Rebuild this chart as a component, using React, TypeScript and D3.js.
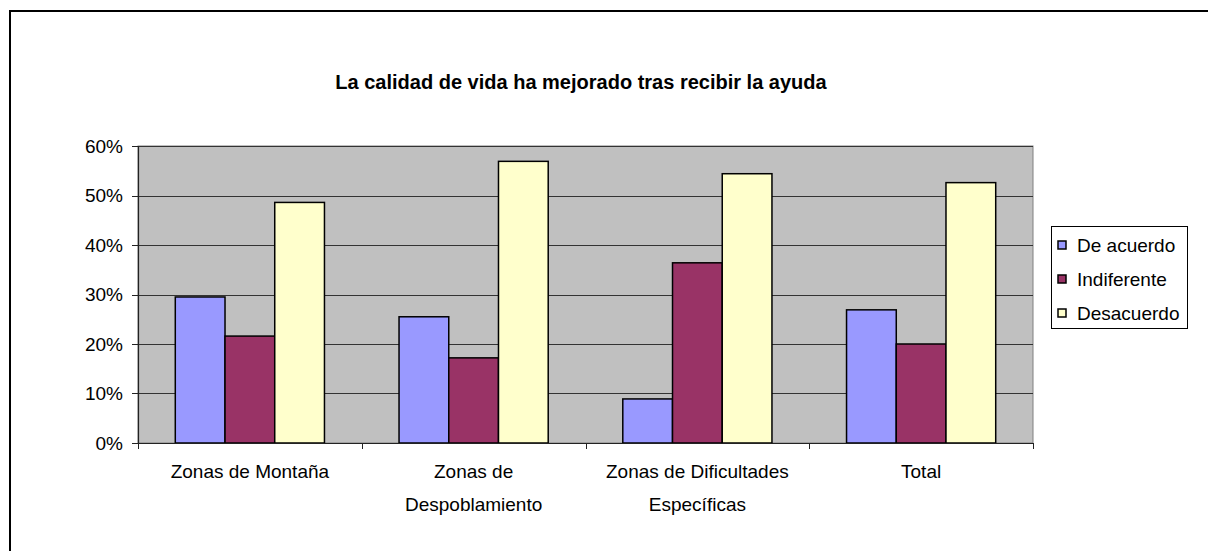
import React from "react";
import * as d3 from "d3";

const categories: string[][] = [
  ["Zonas de Montaña"],
  ["Zonas de", "Despoblamiento"],
  ["Zonas de Dificultades", "Específicas"],
  ["Total"],
];
const seriesNames = ["De acuerdo", "Indiferente", "Desacuerdo"];
const deAcuerdo = [0.295, 0.255, 0.089, 0.269];
const indiferente = [0.216, 0.172, 0.364, 0.2];
const desacuerdo = [0.486, 0.569, 0.544, 0.526];
const yTicks = [0, 0.1, 0.2, 0.3, 0.4, 0.5, 0.6];
const colors = ["#9999FF", "#993366", "#FFFFCC"];
const title = "La calidad de vida ha mejorado tras recibir la ayuda";

export default function App() {
  const W = 1208, H = 551;
  const left = 138, right = 1033, top = 146, bottom = 443;
  const series = [deAcuerdo, indiferente, desacuerdo];
  const x0 = d3.scaleBand<number>().domain(d3.range(categories.length)).range([left, right]).paddingInner(0).paddingOuter(0);
  const bw = x0.bandwidth() / 4.5;
  const y = d3.scaleLinear().domain([0, 0.6]).range([bottom, top]);
  const fmt = d3.format(".0%");
  const font = "'Liberation Sans', Arial, sans-serif";
  return (
    <div style={{ position: "absolute", left: 0, top: 0 }}>
      <svg width={W} height={H} style={{ display: "block" }} fontFamily={font}>
        <rect x={0} y={0} width={W} height={H} fill="#fff" />
        <rect x={10} y={11} width={1400} height={700} fill="none" stroke="#000" strokeWidth={2} />
        <text x={581} y={89} textAnchor="middle" fontSize={20} fontWeight="bold" fill="#000">{title}</text>
        {/* plot area */}
        <rect x={left} y={top} width={right - left} height={bottom - top} fill="#C0C0C0" stroke="#808080" strokeWidth={1} />
        {yTicks.slice(1).map((t) => (
          <line key={t} x1={left} x2={right} y1={Math.round(y(t)) + 0.5} y2={Math.round(y(t)) + 0.5} stroke="#333" strokeWidth={1} />
        ))}
        {/* bars */}
        {categories.map((_, i) =>
          series.map((s, j) => {
            const bx = (x0(i) as number) + bw * 0.75 + j * bw;
            return (
              <rect key={`${i}-${j}`} x={bx} y={y(s[i])} width={bw} height={bottom - y(s[i])} fill={colors[j]} stroke="#000" strokeWidth={1.5} />
            );
          })
        )}
        {/* y axis */}
        <line x1={left + 0.5} x2={left + 0.5} y1={top} y2={bottom} stroke="#222" strokeWidth={1.2} />
        {yTicks.map((t) => (
          <g key={t}>
            <line x1={132} x2={left} y1={Math.round(y(t)) + 0.5} y2={Math.round(y(t)) + 0.5} stroke="#222" />
            <text x={123} y={y(t)} dy="0.35em" textAnchor="end" fontSize={19} fill="#000">{fmt(t)}</text>
          </g>
        ))}
        {/* x axis */}
        <line x1={left} x2={right} y1={bottom + 0.5} y2={bottom + 0.5} stroke="#222" strokeWidth={1.2} />
        {d3.range(categories.length + 1).map((i) => {
          const xx = Math.round(left + i * x0.bandwidth()) + 0.5;
          return <line key={i} x1={xx} x2={xx} y1={bottom} y2={bottom + 6} stroke="#222" />;
        })}
        {categories.map((lines, i) => (
          <text key={i} textAnchor="middle" fontSize={19} fill="#000">
            {lines.map((l, k) => (
              <tspan key={k} x={(x0(i) as number) + x0.bandwidth() / 2} y={478 + k * 33}>{l}</tspan>
            ))}
          </text>
        ))}
        {/* legend */}
        <rect x={1051.5} y={226.5} width={136} height={102} fill="#fff" stroke="#000" strokeWidth={1} />
        {seriesNames.map((n, j) => (
          <g key={n}>
            <rect x={1058} y={245 + j * 34 - 4} width={8} height={8} fill={colors[j]} stroke="#000" strokeWidth={1.5} />
            <text x={1077} y={245 + j * 34} dy="0.35em" fontSize={19} fill="#000">{n}</text>
          </g>
        ))}
      </svg>
    </div>
  );
}
